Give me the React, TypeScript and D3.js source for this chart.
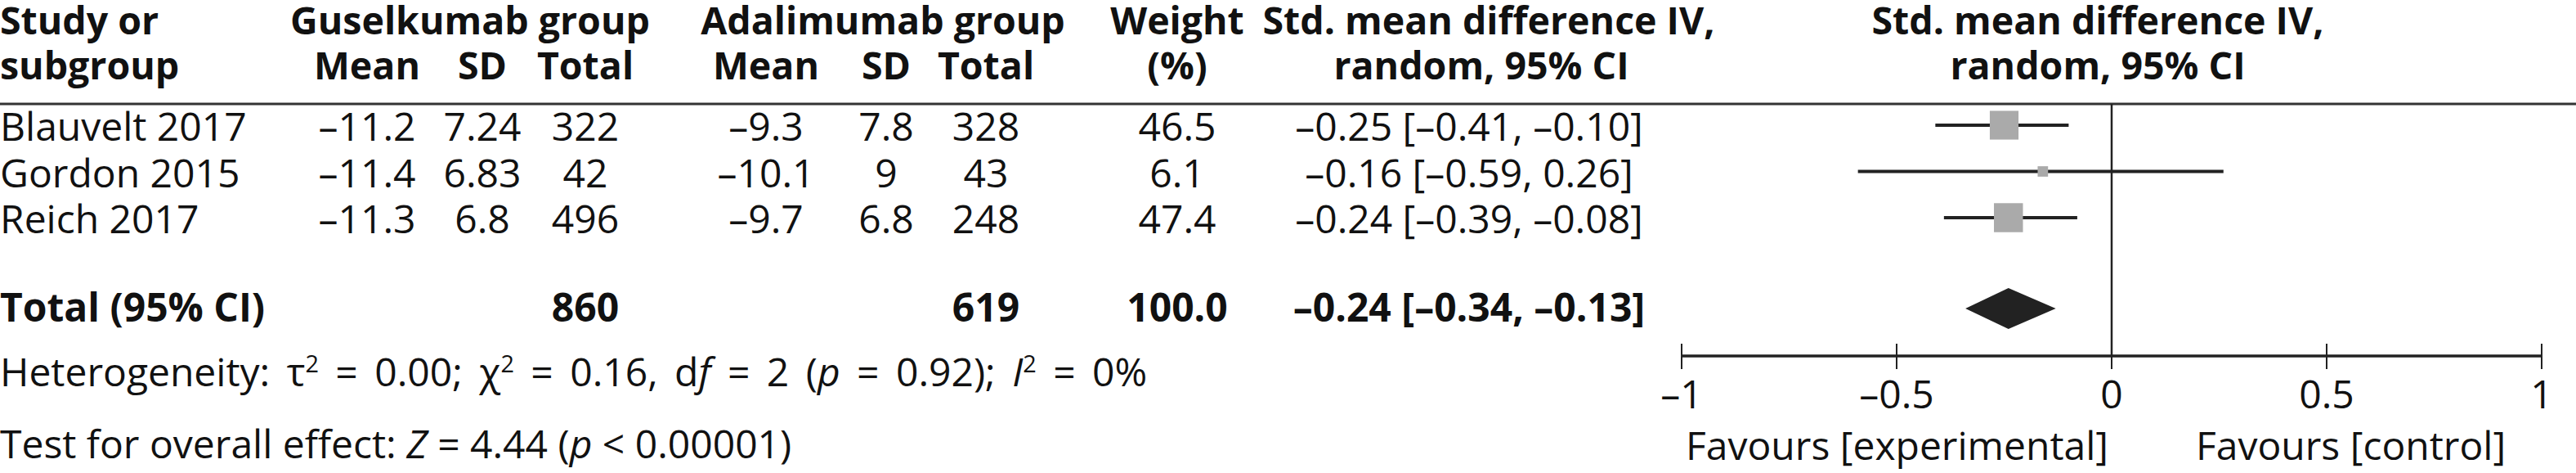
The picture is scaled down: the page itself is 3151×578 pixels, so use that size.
import React, { useRef, useEffect } from 'react';
import * as d3 from 'd3';

// Study rows
const studies = ['Blauvelt 2017', 'Gordon 2015', 'Reich 2017'];
const gusMean = [-11.2, -11.4, -11.3];
const gusSD = [7.24, 6.83, 6.8];
const gusTotal = [322, 42, 496];
const adaMean = [-9.3, -10.1, -9.7];
const adaSD = [7.8, 9, 6.8];
const adaTotal = [328, 43, 248];
const weights = [46.5, 6.1, 47.4];
const smd = [-0.25, -0.16, -0.24];
const ciLow = [-0.41, -0.59, -0.39];
const ciHigh = [-0.1, 0.26, -0.08];

// Pooled result
const totalGus = 860;
const totalAda = 619;
const totalWeight = 100.0;
const pooled = { est: -0.24, lo: -0.34, hi: -0.13 };

const axisTicks = [-1, -0.5, 0, 0.5, 1];

const W = 3151;
const H = 578;
const FONT = '"Open Sans", "Noto Sans", sans-serif';
const FS = 48;
const FS_HEAD = 46.5;

const minus = (s: string) => s.replace(/-/g, '\u2013');
const fmt2 = (v: number) => minus(v.toFixed(2));

const App: React.FC = () => {
  const svgRef = useRef<SVGSVGElement | null>(null);

  useEffect(() => {
    const svg = d3.select(svgRef.current);
    svg.selectAll('*').remove();

    svg.append('rect').attr('width', W).attr('height', H).attr('fill', 'white');

    // column centres
    const col = {
      gMean: 449, gSD: 590, gTot: 716,
      aMean: 937, aSD: 1084, aTot: 1206,
      weight: 1440, ci: 1797, plot: 2566,
    };

    const x = d3.scaleLinear().domain([-1, 1]).range([2057, 3109]);
    const rowY = d3.scalePoint<string>().domain(studies).range([153, 266]);
    const baseOff = 19;

    const txt = (g: any, xx: number, yy: number, s: string, anchor = 'middle', bold = false, size = FS) =>
      g.append('text')
        .attr('x', xx).attr('y', yy)
        .attr('text-anchor', anchor)
        .attr('font-family', FONT)
        .attr('font-size', size)
        .attr('font-weight', bold ? 700 : 400)
        .attr('fill', '#111')
        .text(s);

    // header
    const hd = svg.append('g');
    const head = (xx: number, yy: number, s: string, anchor = 'middle') =>
      txt(hd, xx, yy, s, anchor, true, FS_HEAD);
    head(0, 42, 'Study or', 'start');
    head(0, 97, 'subgroup', 'start');
    head(575, 42, 'Guselkumab group');
    head(col.gMean, 97, 'Mean');
    head(col.gSD, 97, 'SD');
    head(col.gTot, 97, 'Total');
    head(1080, 42, 'Adalimumab group');
    head(col.aMean, 97, 'Mean');
    head(col.aSD, 97, 'SD');
    head(col.aTot, 97, 'Total');
    head(col.weight, 42, 'Weight');
    head(col.weight, 97, '(%)');
    head(1821, 42, 'Std. mean difference IV,');
    head(1812, 97, 'random, 95% CI');
    head(col.plot, 42, 'Std. mean difference IV,');
    head(col.plot, 97, 'random, 95% CI');

    svg.append('line')
      .attr('x1', 0).attr('x2', W).attr('y1', 127).attr('y2', 127)
      .attr('stroke', '#333').attr('stroke-width', 3);

    // zero line
    svg.append('line')
      .attr('x1', x(0)).attr('x2', x(0)).attr('y1', 127).attr('y2', 435)
      .attr('stroke', '#222').attr('stroke-width', 2.5);

    // study rows
    const rows = svg.append('g');
    studies.forEach((s, i) => {
      const cy = rowY(s) as number;
      const by = cy + baseOff;
      txt(rows, 0, by, s, 'start');
      txt(rows, col.gMean, by, minus(String(gusMean[i])));
      txt(rows, col.gSD, by, String(gusSD[i]));
      txt(rows, col.gTot, by, String(gusTotal[i]));
      txt(rows, col.aMean, by, minus(String(adaMean[i])));
      txt(rows, col.aSD, by, String(adaSD[i]));
      txt(rows, col.aTot, by, String(adaTotal[i]));
      txt(rows, col.weight, by, weights[i].toFixed(1));
      txt(rows, col.ci, by, `${fmt2(smd[i])} [${fmt2(ciLow[i])}, ${fmt2(ciHigh[i])}]`);

      rows.append('line')
        .attr('x1', x(ciLow[i])).attr('x2', x(ciHigh[i]))
        .attr('y1', cy).attr('y2', cy)
        .attr('stroke', '#222').attr('stroke-width', 4);
      // square area follows study weight
      const side = 5.15 * Math.sqrt(weights[i]);
      rows.append('rect')
        .attr('x', x(smd[i]) - side / 2).attr('y', cy - side / 2)
        .attr('width', side).attr('height', side)
        .attr('fill', '#aaaaaa');
    });

    // total row
    const totY = 377;
    const tb = 393;
    txt(svg, 0, tb, 'Total (95% CI)', 'start', true);
    txt(svg, col.gTot, tb, String(totalGus), 'middle', true);
    txt(svg, col.aTot, tb, String(totalAda), 'middle', true);
    txt(svg, col.weight, tb, totalWeight.toFixed(1), 'middle', true);
    txt(svg, col.ci, tb, `${fmt2(pooled.est)} [${fmt2(pooled.lo)}, ${fmt2(pooled.hi)}]`, 'middle', true);

    const dh = 25;
    svg.append('path')
      .attr('d', `M${x(pooled.lo)},${totY} L${x(pooled.est)},${totY - dh} L${x(pooled.hi)},${totY} L${x(pooled.est)},${totY + dh} Z`)
      .attr('fill', '#222');

    // axis
    const axY = 435;
    const ax = svg.append('g');
    ax.append('line')
      .attr('x1', x(-1)).attr('x2', x(1)).attr('y1', axY).attr('y2', axY)
      .attr('stroke', '#222').attr('stroke-width', 3.5);
    axisTicks.forEach((t) => {
      ax.append('line')
        .attr('x1', x(t)).attr('x2', x(t)).attr('y1', axY - 15).attr('y2', axY + 16)
        .attr('stroke', '#222').attr('stroke-width', 2);
      txt(ax, x(t), 499, minus(String(t)));
    });
    txt(ax, x(0) - 4, 562, 'Favours [experimental]', 'end');
    txt(ax, 2686, 562, 'Favours [control]', 'start');

    // footnotes
    const het = svg.append('text')
      .attr('x', 0).attr('y', 472)
      .attr('font-family', FONT).attr('font-size', FS).attr('fill', '#111')
      .attr('word-spacing', 8);
    const parts: [string, string?][] = [
      ['Heterogeneity: τ'], ['2', 'sup'], [' = 0.00; χ'], ['2', 'sup'], [' = 0.16, d'], ['f', 'i'],
      [' = 2 ('], ['p', 'i'], [' = 0.92); '], ['I', 'i'], ['2', 'sup'], [' = 0%'],
    ];
    let up = false;
    parts.forEach(([s, k]) => {
      const sp = het.append('tspan').text(s);
      if (k === 'sup') {
        sp.attr('dy', -17).attr('font-size', FS * 0.6);
        up = true;
      } else {
        if (up) { sp.attr('dy', 17); up = false; }
        if (k === 'i') sp.attr('font-style', 'italic');
      }
    });

    const tst = svg.append('text')
      .attr('x', 0).attr('y', 560)
      .attr('font-family', FONT).attr('font-size', FS).attr('fill', '#111');
    tst.append('tspan').text('Test for overall effect: ');
    tst.append('tspan').attr('font-style', 'italic').text('Z');
    tst.append('tspan').text(' = 4.44 (');
    tst.append('tspan').attr('font-style', 'italic').text('p');
    tst.append('tspan').text(' < 0.00001)');
  }, []);

  return (
    <svg
      ref={svgRef}
      width={W}
      height={H}
      style={{ position: 'absolute', left: 0, top: 0 }}
    />
  );
};

export default App;
